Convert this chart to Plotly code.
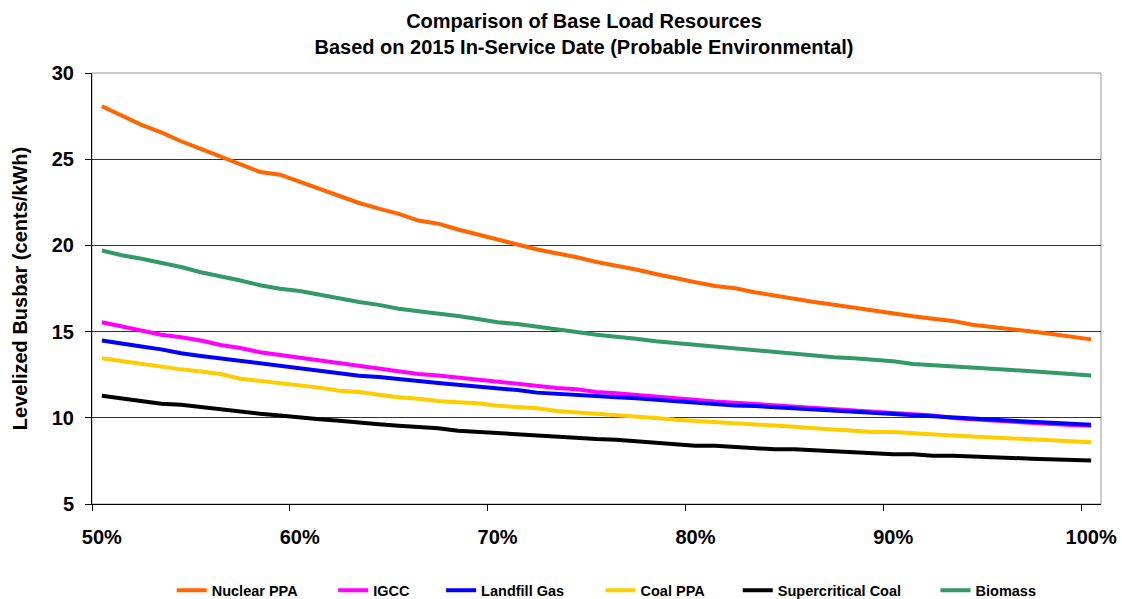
import plotly.graph_objects as go

# Capacity factor categories (%)
capacity_factor = list(range(50, 101))
categories = [f"{p}%" for p in capacity_factor]

# Levelized busbar cost (cents/kWh) by capacity factor
nuclear_ppa = [28.07, 27.53, 26.99, 26.56, 26.04, 25.60, 25.17, 24.75, 24.26, 24.10,
               23.68, 23.30, 22.85, 22.46, 22.13, 21.83, 21.44, 21.26, 20.92, 20.61,
               20.36, 20.05, 19.76, 19.54, 19.31, 19.04, 18.83, 18.60, 18.34, 18.09,
               17.86, 17.65, 17.51, 17.28, 17.08, 16.91, 16.72, 16.56, 16.39, 16.20,
               16.06, 15.89, 15.75, 15.62, 15.40, 15.25, 15.13, 15.00, 14.86, 14.71,
               14.55]
igcc = [15.54, 15.29, 15.06, 14.82, 14.67, 14.48, 14.22, 14.05, 13.80, 13.64,
        13.47, 13.33, 13.16, 13.00, 12.87, 12.70, 12.54, 12.46, 12.33, 12.25,
        12.10, 11.96, 11.86, 11.73, 11.65, 11.50, 11.42, 11.32, 11.23, 11.13,
        11.05, 10.94, 10.88, 10.80, 10.72, 10.63, 10.55, 10.47, 10.41, 10.34,
        10.28, 10.20, 10.14, 9.99, 9.91, 9.83, 9.77, 9.72, 9.64, 9.58,
        9.54]
landfill_gas = [14.48, 14.28, 14.13, 13.97, 13.74, 13.59, 13.45, 13.31, 13.14, 13.00,
                12.85, 12.73, 12.58, 12.44, 12.37, 12.23, 12.13, 12.02, 11.92, 11.79,
                11.69, 11.61, 11.46, 11.38, 11.32, 11.24, 11.19, 11.13, 11.05, 10.92,
                10.84, 10.78, 10.72, 10.68, 10.61, 10.55, 10.47, 10.41, 10.36, 10.30,
                10.22, 10.16, 10.08, 10.03, 9.95, 9.89, 9.83, 9.77, 9.72, 9.66,
                9.60]
coal_ppa = [13.45, 13.29, 13.08, 12.95, 12.81, 12.68, 12.54, 12.27, 12.15, 12.02,
            11.90, 11.75, 11.57, 11.50, 11.34, 11.19, 11.11, 10.97, 10.90, 10.84,
            10.70, 10.63, 10.55, 10.39, 10.32, 10.22, 10.14, 10.07, 9.99, 9.89,
            9.83, 9.76, 9.70, 9.62, 9.54, 9.48, 9.39, 9.33, 9.25, 9.18,
            9.18, 9.10, 9.02, 8.98, 8.92, 8.87, 8.81, 8.75, 8.73, 8.65,
            8.58]
supercritical_coal = [11.28, 11.11, 10.95, 10.82, 10.76, 10.63, 10.47, 10.39, 10.24, 10.14,
                      10.01, 9.91, 9.83, 9.70, 9.62, 9.54, 9.47, 9.39, 9.25, 9.18,
                      9.10, 9.02, 8.94, 8.87, 8.79, 8.77, 8.73, 8.65, 8.58, 8.48,
                      8.38, 8.38, 8.30, 8.25, 8.17, 8.17, 8.11, 8.03, 8.01, 7.96,
                      7.88, 7.88, 7.80, 7.80, 7.74, 7.69, 7.67, 7.63, 7.61, 7.55,
                      7.53]
biomass = [19.70, 19.43, 19.23, 18.98, 18.75, 18.44, 18.21, 17.96, 17.69, 17.49,
           17.36, 17.14, 16.89, 16.72, 16.55, 16.33, 16.18, 16.06, 15.91, 15.73,
           15.54, 15.44, 15.27, 15.13, 14.98, 14.82, 14.73, 14.59, 14.44, 14.34,
           14.22, 14.13, 14.01, 13.91, 13.79, 13.72, 13.62, 13.51, 13.45, 13.37,
           13.28, 13.12, 13.04, 13.00, 12.93, 12.85, 12.77, 12.70, 12.62, 12.54,
           12.46]

series_names = ["Nuclear PPA", "IGCC", "Landfill Gas", "Coal PPA",
                "Supercritical Coal", "Biomass"]
series_values = [nuclear_ppa, igcc, landfill_gas, coal_ppa, supercritical_coal, biomass]
series_colors = ["#FF6600", "#FF00FF", "#0000FF", "#FFCC00", "#000000", "#339966"]
legend_ids = ["legend", "legend2", "legend3", "legend4", "legend5", "legend6"]
legend_x = [0.079, 0.239, 0.346, 0.504, 0.640, 0.836]

FONT = "Arial, 'Liberation Sans', sans-serif"

fig = go.Figure()
for name, vals, color, lid in zip(series_names, series_values, series_colors, legend_ids):
    fig.add_trace(go.Scatter(
        x=categories, y=vals, name=name, mode="lines",
        line=dict(color=color, width=4),
        legend=lid,
    ))

legend_layouts = {}
for lid, lx in zip(legend_ids, legend_x):
    legend_layouts[lid] = dict(
        orientation="h", x=lx, y=-0.2, xanchor="left", yanchor="middle",
        xref="paper", yref="paper", bgcolor="rgba(0,0,0,0)",
        font=dict(family=FONT, size=14.5, color="#000000", weight="bold"),
    )

fig.update_layout(
    width=1122, height=599,
    margin=dict(l=92, r=21, t=73, b=95, autoexpand=False),
    paper_bgcolor="white", plot_bgcolor="white",
    title=dict(
        text="<b>Comparison of Base Load Resources<br>Based on 2015 In-Service Date (Probable Environmental)</b>",
        x=0.5205, xref="container", xanchor="center",
        y=0.954, yref="container", yanchor="top",
        font=dict(family=FONT, size=20, color="#000000"),
    ),
    showlegend=True,
    **legend_layouts,
)

fig.update_xaxes(
    type="category", range=[-0.5, 50.5],
    tickmode="linear", tick0=0, dtick=10, tickson="boundaries",
    ticks="outside", ticklen=6, tickcolor="#000000", tickwidth=1,
    tickangle=0, automargin=False,
    showline=True, linecolor="#000000", linewidth=1,
    showgrid=False, zeroline=False,
    tickfont=dict(family=FONT, size=20, color="#000000", weight="bold"),
    ticklabelstandoff=15,
)
fig.update_yaxes(
    range=[5, 30], tickmode="linear", tick0=5, dtick=5,
    ticks="outside", ticklen=6, tickcolor="#000000", tickwidth=1,
    automargin=False,
    showline=True, linecolor="#000000", linewidth=1,
    showgrid=True, gridcolor="#333333", gridwidth=1, zeroline=False,
    tickfont=dict(family=FONT, size=20, color="#000000", weight="bold"),
    ticklabelstandoff=7,
    title=dict(text="<b>Levelized Busbar (cents/kWh)</b>",
               font=dict(family=FONT, size=20, color="#000000"), standoff=18),
)

# Plot-area frame on the top and right
fig.add_shape(type="rect", xref="paper", yref="paper", x0=0, y0=0, x1=1, y1=1,
              line=dict(color="#999999", width=1), fillcolor="rgba(0,0,0,0)", layer="below")

fig.write_html("out.html")
